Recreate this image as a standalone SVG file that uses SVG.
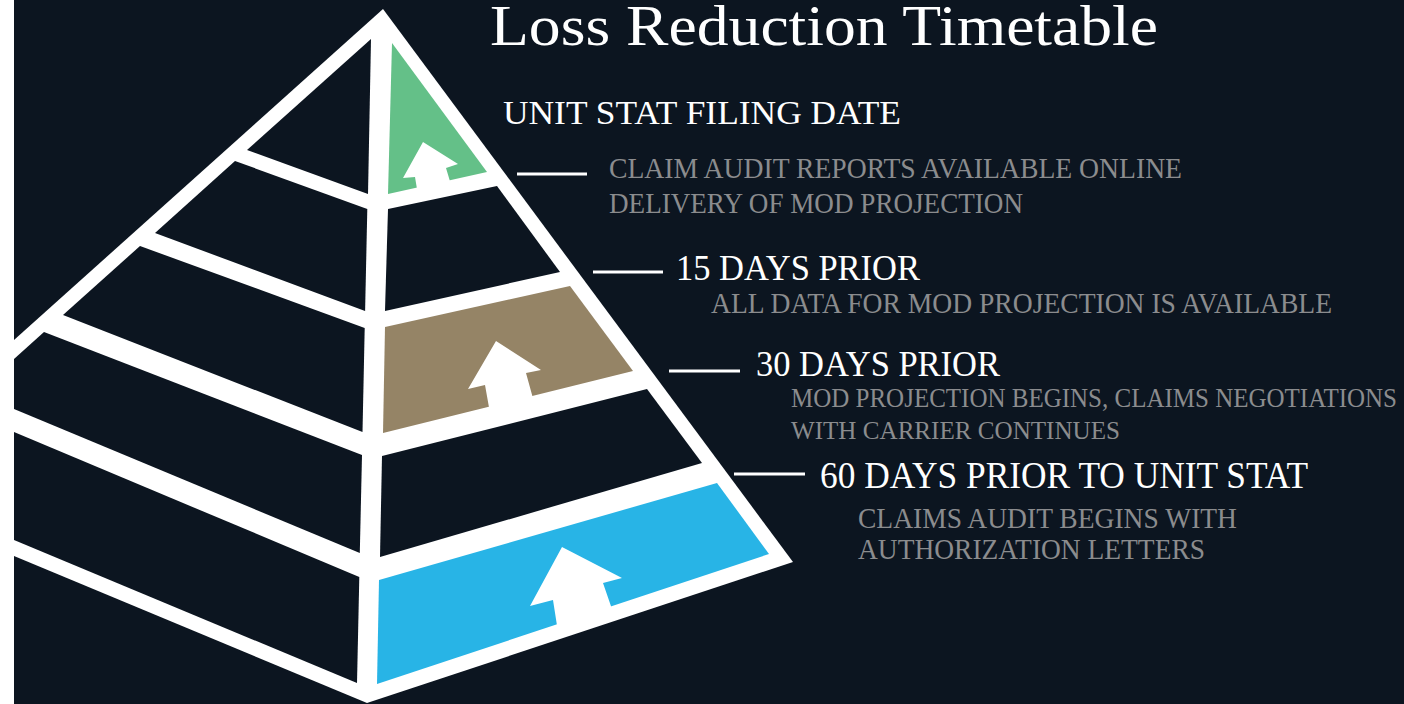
<svg xmlns="http://www.w3.org/2000/svg" width="1404" height="704" viewBox="0 0 1404 704">
  <style>
    .dark { fill: #0c1520; }
    .arrow { fill: #ffffff; }
    .head { font-family: "Liberation Serif", "DejaVu Serif", serif; fill: #ffffff; }
    .sub { font-family: "Liberation Serif", "DejaVu Serif", serif; fill: #8b8c8e; }
    .conn { stroke: #ffffff; stroke-width: 3; fill: none; }
  </style>
  <rect x="0" y="0" width="1404" height="704" fill="#ffffff"/>
  <rect x="14" y="0" width="1390" height="704" class="dark"/>

  <g id="pyramid">
    <polygon points="383,9 793,562 367,703 14,556 14,340" fill="#ffffff"/>
    <g id="left-faces">
      <polygon class="dark" points="371,39 247,150 368,194"/>
      <polygon class="dark" points="235,161 367.3,209 365.1,311 155,233"/>
      <polygon class="dark" points="140,246 364.7,328 362.5,432 63,315"/>
      <polygon class="dark" points="44,332 362,455 359.8,553 14,409 14,359"/>
      <polygon class="dark" points="14,432 359.3,577 357,683 14,540"/>
    </g>
  </g>

  <g id="tier-unit-stat">
    <polygon fill="#64c088" points="392,43 487,172 388,194"/>
    <polygon class="arrow" points="423,142 458,164 446,168 452,188 418,195 415,177 403,178"/>
  </g>
  <g id="tier-2">
    <polygon class="dark" points="388,209 497,186 560,272 385,311"/>
  </g>
  <g id="tier-30-days">
    <polygon fill="#958466" points="385,327 570,286 633,371 383,433"/>
    <polygon class="arrow" points="496,341 541,370 526,373 534,402 490,413 485,385 468,389"/>
  </g>
  <g id="tier-4">
    <polygon class="dark" points="382,456 647,389 702,463 380,557"/>
  </g>
  <g id="tier-60-days">
    <polygon fill="#28b4e6" points="379,580 717,483 769,554 377,684"/>
    <polygon class="arrow" points="562,547 622,578 603,583 613,612 558,632 553,600 530,606"/>
  </g>

  <g id="connectors">
    <line class="conn" x1="517" y1="174" x2="587" y2="174"/>
    <line class="conn" x1="593" y1="272" x2="663" y2="272"/>
    <line class="conn" x1="669" y1="371" x2="740" y2="371"/>
    <line class="conn" x1="734" y1="474" x2="805" y2="474"/>
  </g>

  <g id="title">
    <text class="head" x="490" y="45" font-size="58" textLength="668" lengthAdjust="spacingAndGlyphs">Loss Reduction Timetable</text>
  </g>
  <g id="label-unit-stat">
    <text class="head" x="503" y="124" font-size="34" textLength="398" lengthAdjust="spacingAndGlyphs">UNIT STAT FILING DATE</text>
    <text class="sub" x="609" y="178" font-size="29" textLength="573" lengthAdjust="spacingAndGlyphs">CLAIM AUDIT REPORTS AVAILABLE ONLINE</text>
    <text class="sub" x="609" y="213" font-size="29" textLength="414" lengthAdjust="spacingAndGlyphs">DELIVERY OF MOD PROJECTION</text>
  </g>
  <g id="label-15-days">
    <text class="head" x="676" y="280" font-size="36" textLength="244" lengthAdjust="spacingAndGlyphs">15 DAYS PRIOR</text>
    <text class="sub" x="711" y="313" font-size="29" textLength="621" lengthAdjust="spacingAndGlyphs">ALL DATA FOR MOD PROJECTION IS AVAILABLE</text>
  </g>
  <g id="label-30-days">
    <text class="head" x="756" y="376" font-size="35" textLength="244" lengthAdjust="spacingAndGlyphs">30 DAYS PRIOR</text>
    <text class="sub" x="791" y="407" font-size="26.5" textLength="606" lengthAdjust="spacingAndGlyphs">MOD PROJECTION BEGINS, CLAIMS NEGOTIATIONS</text>
    <text class="sub" x="791" y="439" font-size="26" textLength="329" lengthAdjust="spacingAndGlyphs">WITH CARRIER CONTINUES</text>
  </g>
  <g id="label-60-days">
    <text class="head" x="820" y="488" font-size="37" textLength="488" lengthAdjust="spacingAndGlyphs">60 DAYS PRIOR TO UNIT STAT</text>
    <text class="sub" x="858" y="528" font-size="29.5" textLength="379" lengthAdjust="spacingAndGlyphs">CLAIMS AUDIT BEGINS WITH</text>
    <text class="sub" x="858" y="559" font-size="29.5" textLength="347" lengthAdjust="spacingAndGlyphs">AUTHORIZATION LETTERS</text>
  </g>
</svg>
